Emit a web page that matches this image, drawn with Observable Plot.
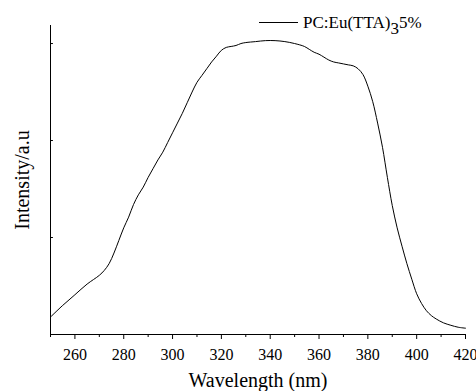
<!DOCTYPE html>
<html>
<head>
<meta charset="utf-8">
<script src="https://cdn.jsdelivr.net/npm/d3@7"></script>
<script src="https://cdn.jsdelivr.net/npm/@observablehq/plot@0.6"></script>
<style>
  html, body { margin: 0; padding: 0; background: #fff; }
  #wrap { position: relative; width: 476px; height: 391px; font-family: "Liberation Serif", "Times New Roman", serif; }
  #chart svg, #chart svg text { font-family: "Liberation Serif", "Times New Roman", serif !important; }
  #legend { position: absolute; left: 259px; top: 13px; font-size: 17px; white-space: nowrap; color: #000; line-height: 20px; }
  #legend .swatch { display: inline-block; width: 39px; height: 0; border-top: 1px solid #000; vertical-align: middle; margin-right: 5px; position: relative; top: -2px; }
  #legend .sub { position: relative; top: 6px; }
</style>
</head>
<body>
<div id="wrap">
  <div id="chart"></div>
  <div id="legend"><span class="swatch"></span>PC:Eu(TTA)<span class="sub">3</span>5%</div>
</div>
<script>
const wavelength = [250, 255, 260, 265, 270, 272, 274, 276, 278, 280, 282, 284, 286, 288, 290, 292, 294, 296, 298, 300,
  302, 304, 306, 308, 310, 312, 314, 316, 318, 320, 322, 324, 326, 328, 330, 334, 338, 342, 346, 350,
  354, 356, 358, 360, 362, 364, 366, 368, 370, 372, 374, 376, 378, 380, 382, 384, 386, 388, 390, 392,
  394, 396, 398, 400, 402, 404, 406, 408, 411, 414, 417, 420];
const intensity = [0.18, 0.30, 0.41, 0.52, 0.61, 0.66, 0.73, 0.84, 0.97, 1.10, 1.21, 1.34, 1.44, 1.52, 1.62, 1.71, 1.80, 1.88, 1.98, 2.08,
  2.18, 2.28, 2.39, 2.50, 2.60, 2.67, 2.74, 2.81, 2.87, 2.93, 2.96, 2.97, 2.98, 3.00, 3.01, 3.02, 3.03, 3.03, 3.02, 3.00,
  2.97, 2.94, 2.91, 2.89, 2.86, 2.83, 2.81, 2.80, 2.79, 2.78, 2.77, 2.74, 2.68, 2.56, 2.40, 2.18, 1.93, 1.62, 1.33, 1.10,
  0.91, 0.73, 0.57, 0.42, 0.32, 0.245, 0.195, 0.16, 0.12, 0.095, 0.075, 0.065];
const majorTicks = [260, 280, 300, 320, 340, 360, 380, 400, 420];
const minorTicks = [250, 270, 290, 310, 330, 350, 370, 390, 410];
const yTicks = [1, 2, 3];
const xLabel = "Wavelength (nm)";
const yLabel = "Intensity/a.u";

const data = wavelength.map((w, i) => ({w, v: intensity[i]}));
const serif = "Liberation Serif, Times New Roman, serif";

const chart = Plot.plot({
  width: 476,
  height: 391,
  marginLeft: 50,
  marginRight: 11,
  marginTop: 25,
  marginBottom: 57,
  style: {fontFamily: serif, fontSize: "16px", color: "#000", background: "#fff"},
  x: {domain: [250, 420]},
  y: {domain: [0, 3.186]},
  marks: [
    Plot.axisX(minorTicks, {tickSize: 3, tickFormat: () => "", label: null}),
    Plot.axisX(majorTicks, {tickSize: 5, tickPadding: 9, fontSize: 16, fontFamily: serif, label: null}),
    Plot.axisX({ticks: [], tickSize: 0, label: xLabel, labelAnchor: "center", labelOffset: 52, labelArrow: "none", fontSize: 20, fontFamily: serif}),
    Plot.axisY(yTicks, {tickSize: 0, tickFormat: () => "", label: yLabel, labelAnchor: "center", labelOffset: 36, labelArrow: "none", fontSize: 20, fontFamily: serif}),
    Plot.ruleY(yTicks, {x1: 250, x2: 251.2, stroke: "#000"}),
    Plot.ruleX([250], {stroke: "#000"}),
    Plot.ruleY([0], {stroke: "#000"}),
    Plot.line(data, {x: "w", y: "v", stroke: "#000", strokeWidth: 1, curve: "catmull-rom"})
  ]
});
document.getElementById("chart").appendChild(chart);
</script>
</body>
</html>
